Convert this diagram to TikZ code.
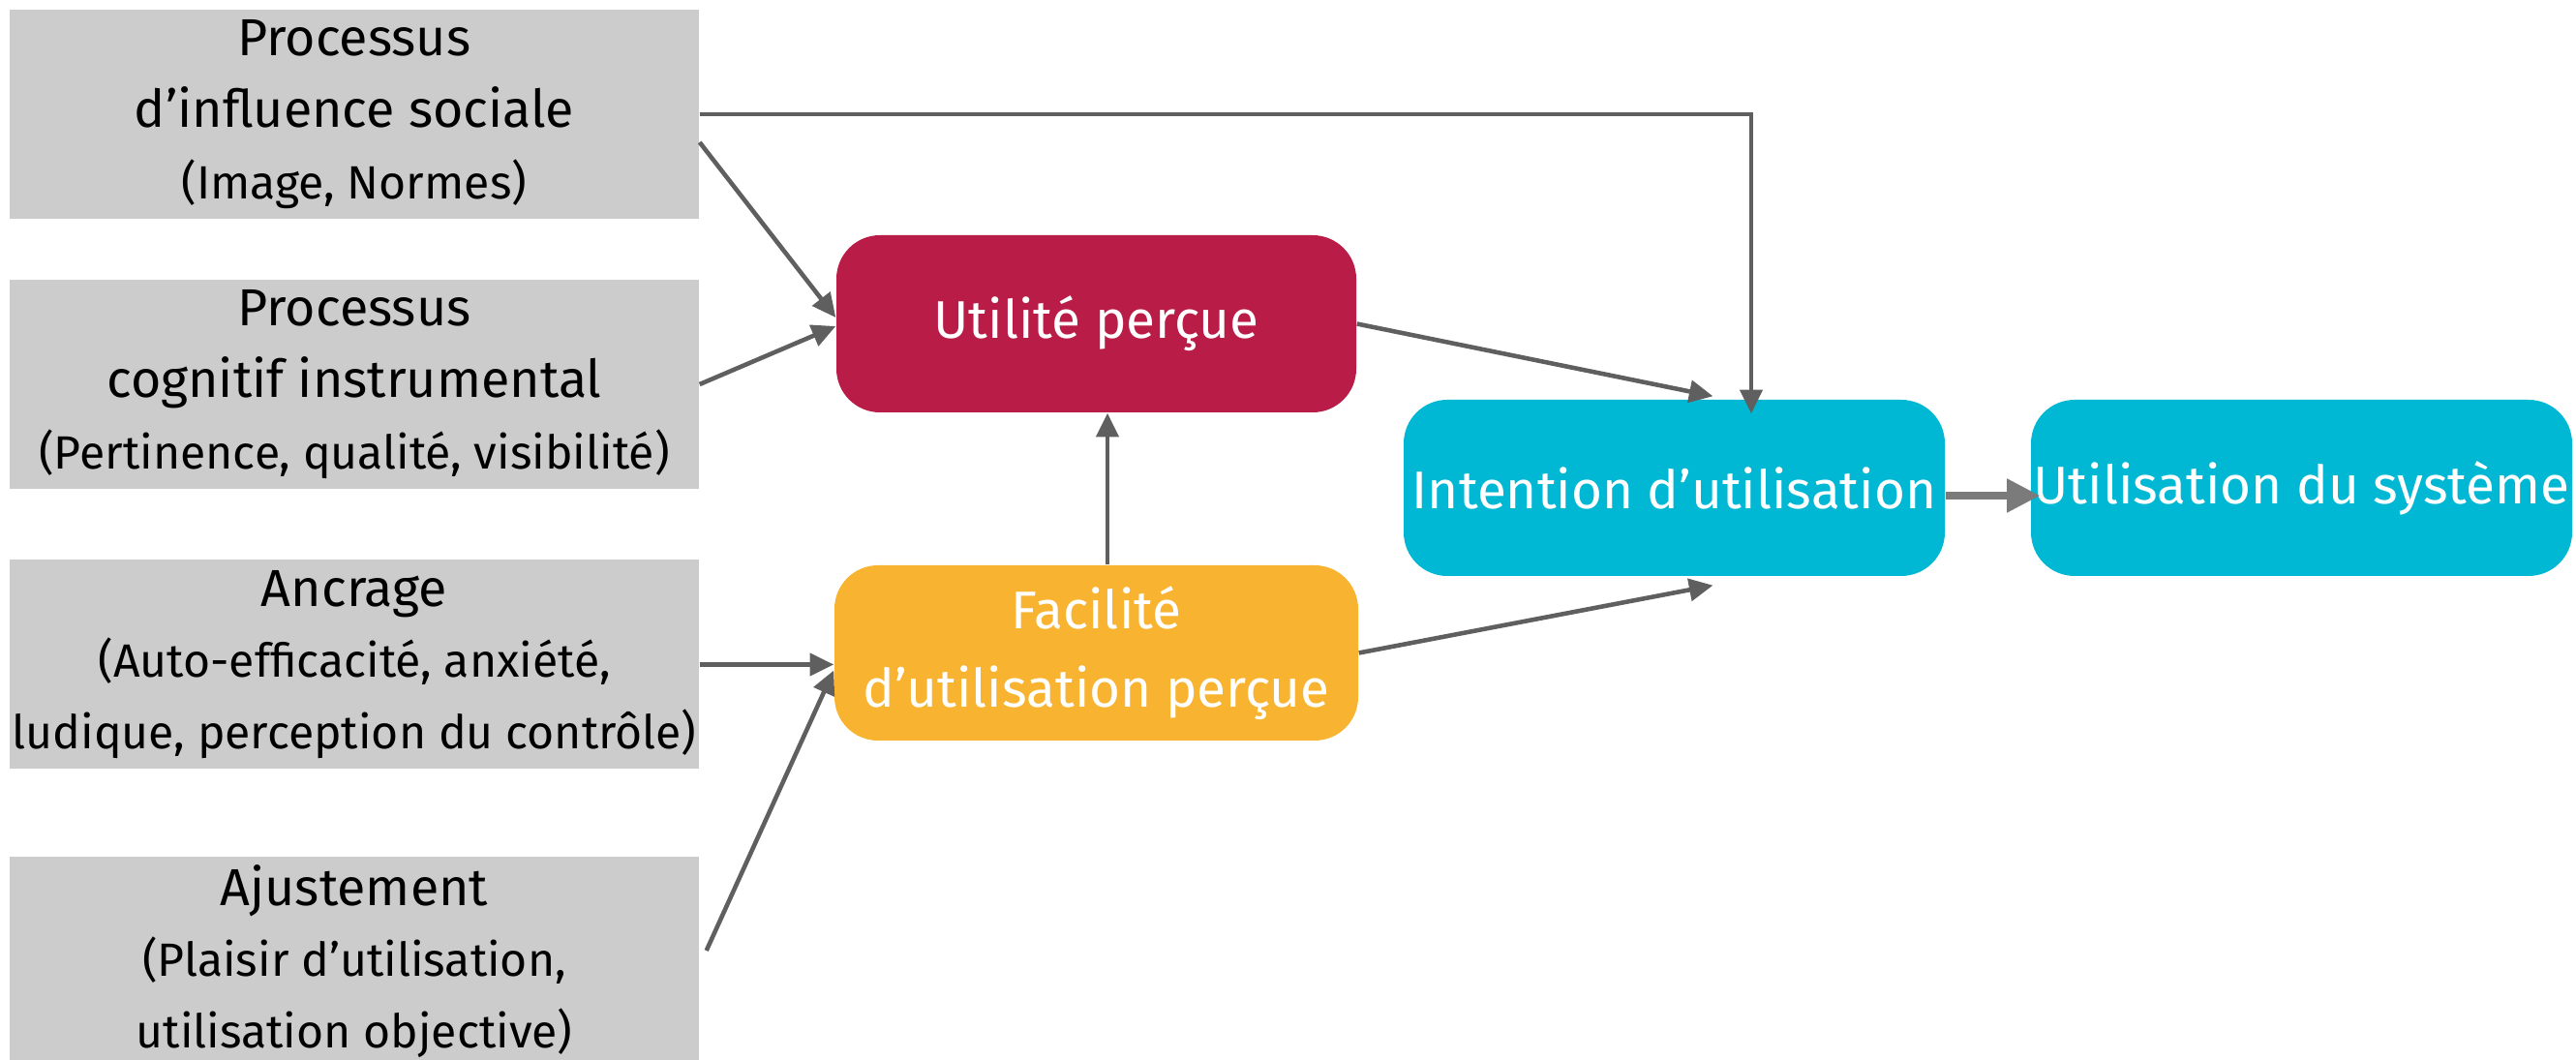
\documentclass[tikz,border=0pt]{standalone}
\usepackage{fontspec}
\setmainfont{Fira Sans}
\usetikzlibrary{arrows.meta,calc}
\definecolor{gris}{HTML}{CCCCCC}
\definecolor{rouge}{HTML}{B91C47}
\definecolor{jaune}{HTML}{F8B430}
\definecolor{cyan}{HTML}{00B8D4}
\definecolor{trait}{HTML}{5F5F5F}
\definecolor{traitclair}{HTML}{7B7B7B}
\def\detail#1{{\fontsize{13.7}{18}\selectfont #1}}
\tikzset{
	facteur/.style={fill=gris, inner sep=0pt, minimum width=7.12cm, minimum height=2.16cm, align=center, font=\fontsize{15.3}{21}\selectfont},
	bloc/.style={rounded corners=0.45cm, inner sep=0pt, text=white, align=center, font=\fontsize{15.6}{23}\selectfont},
	fleche/.style={draw=trait, line width=1.3pt, -{Triangle[length=7pt, width=6.5pt]}},
	grossefleche/.style={draw=traitclair, line width=2.2pt, -{Triangle[length=9.7pt, width=9.4pt]}}
}

\begin{document}
\begin{tikzpicture}
			%%%%% START %%%%%
			\useasboundingbox (0, 0) rectangle (26.61, -10.95);
			
			\node[facteur] (soc) at (3.66, -1.18) {Processus\\d'influence sociale\\\detail{(Image, Normes)}};
			\node[facteur] (cog) at (3.66, -3.97) {Processus\\cognitif instrumental\\\detail{(Pertinence, qualité, visibilité)}};
			\node[facteur] (anc) at (3.66, -6.865) {Ancrage\\\detail{(Auto-efficacité, anxiété,}\\\detail{ludique, perception du contrôle)}};
			\node[facteur] (aju) at (3.66, -9.93) {Ajustement\\\detail{(Plaisir d'utilisation,}\\\detail{utilisation objective)}};
			
			\node[bloc, fill=rouge, minimum width=5.37cm, minimum height=1.83cm] (util) at (11.325, -3.345) {Utilité perçue};
			\node[bloc, fill=jaune, minimum width=5.41cm, minimum height=1.81cm] (facil) at (11.325, -6.745) {Facilité\\d'utilisation perçue};
			\node[bloc, fill=cyan, minimum width=5.59cm, minimum height=1.82cm] (inten) at (17.295, -5.04) {Intention d'utilisation};
			\node[bloc, fill=cyan, minimum width=5.59cm, minimum height=1.82cm] (usage) at (23.775, -5.04) {Utilisation du système};
			
			\coordinate (coin) at (18.09, -1.18);
			\draw[fleche, shorten >=-0.15cm] (soc.east) -- (coin) -- (coin |- inten.north);
			
			\draw[fleche] ([yshift=-0.29cm]soc.east) -- ([yshift=0.065cm]util.west);
			\draw[fleche] (cog.east) -- ([yshift=-0.025cm]util.west);
			\draw[fleche] (anc.east) -- (anc.east -| facil.west);
			\draw[fleche] ([xshift=0.07cm, yshift=0.11cm]aju.east) -- ([yshift=-0.18cm]facil.west);
			\draw[fleche] ([xshift=0.115cm]facil.north) -- ([xshift=0.115cm]util.south);
			
			\draw[fleche] (util.east) -- ([xshift=0.4cm, yshift=0.03cm]inten.north);
			\draw[fleche] (facil.east) -- ([xshift=0.4cm, yshift=-0.09cm]inten.south);
			
			\draw[grossefleche, shorten >=-0.1cm] ([yshift=-0.08cm]inten.east) -- ([yshift=-0.08cm]usage.west);
			%%%%% END %%%%%
\end{tikzpicture}
\end{document}
